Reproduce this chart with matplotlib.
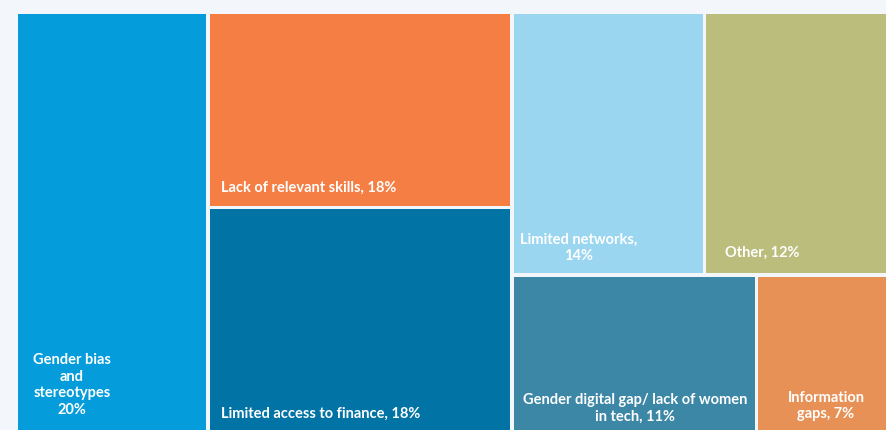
import matplotlib.pyplot as plt
from matplotlib.patches import Rectangle

# --- данные ---
labels = [
    "Gender bias\nand\nstereotypes\n20%",
    "Lack of relevant skills, 18%",
    "Limited access to finance, 18%",
    "Limited networks,\n14%",
    "Other, 12%",
    "Gender digital gap/ lack of women\nin tech, 11%",
    "Information\ngaps, 7%",
]
pct = [20, 18, 18, 14, 12, 11, 7]
# относительные площади плиток, как они видны на картинке
weights = [21.9, 15.7, 19.1, 13.4, 12.9, 11.0, 6.0]
colors = ["#049CDA", "#F57E45", "#0174A5", "#9BD6F1", "#BABD7B", "#3C87A6", "#E89157"]

# структура: колонки -> строки -> элементы
columns = [[[0]], [[1], [2]], [[3, 4], [5, 6]]]

# позиции подписей (пиксели) и выравнивание
label_pos = [(72, 385), (221, 188), (221, 414), (579, 248), (762, 253), (635, 408), (826, 406)]
label_ha = ["center", "left", "left", "center", "center", "center", "center"]

BG = "#F3F6FB"
GAP = 3.5
X0, Y0, X1, Y1 = 16.5, 12.5, 890, 445  # рамка treemap (уходит за край кадра)

fig = plt.figure(figsize=(8.87, 4.30), dpi=100)
fig.patch.set_facecolor(BG)
ax = fig.add_axes([0, 0, 1, 1])
ax.set_xlim(0, 887)
ax.set_ylim(430, 0)
ax.axis("off")

# простая раскладка: колонки по сумме, строки внутри колонки, элементы внутри строки
total = sum(weights)
x = X0
for col in columns:
    col_sum = sum(weights[i] for row in col for i in row)
    cw = (X1 - X0) * col_sum / total
    y = Y0
    for row in col:
        row_sum = sum(weights[i] for i in row)
        rh = (Y1 - Y0) * row_sum / col_sum
        xx = x
        for i in row:
            w = cw * weights[i] / row_sum
            ax.add_patch(Rectangle((xx + GAP / 2, y + GAP / 2), w - GAP, rh - GAP,
                                   facecolor=colors[i], edgecolor="none"))
            xx += w
        y += rh
    x += cw

for i, txt in enumerate(labels):
    ax.text(label_pos[i][0], label_pos[i][1], txt, ha=label_ha[i], va="center",
            multialignment="center", color="white", fontsize=10.5,
            fontweight="bold", family="Lato", linespacing=1.26)

fig.savefig("out.png", dpi=100, facecolor=BG)
